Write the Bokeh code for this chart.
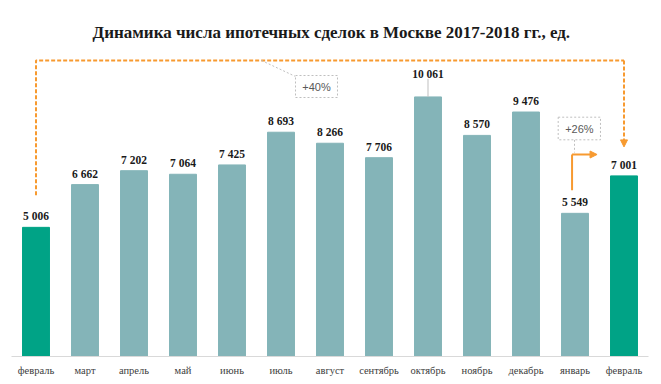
from bokeh.plotting import figure
from bokeh.models import Range1d, FixedTicker, Label, Arrow, NormalHead
from bokeh.embed import file_html
from bokeh.resources import INLINE

months = ["февраль", "март", "апрель", "май", "июнь", "июль", "август",
          "сентябрь", "октябрь", "ноябрь", "декабрь", "январь", "февраль"]
values = [5006, 6662, 7202, 7064, 7425, 8693, 8266, 7706, 10061, 8570, 9476, 5549, 7001]
labels = ["5 006", "6 662", "7 202", "7 064", "7 425", "8 693", "8 266",
          "7 706", "10 061", "8 570", "9 476", "5 549", "7 001"]
highlight = [0, 12]
growth_year = "+40%"
growth_month = "+26%"
title_text = "Динамика  числа ипотечных сделок в Москве 2017-2018 гг., ед."

TEAL = "#84B4B8"
GREEN = "#00A386"
ORANGE = "#F79A30"
GRAY = "#BFBFBF"

W, H = 661, 384
U = 38.76            # data units per pixel
FRAME_H = 356
xs = list(range(len(values)))

p = figure(width=W, height=H, output_backend="svg", toolbar_location=None,
           x_range=Range1d(-0.5, 12.5), y_range=Range1d(0, FRAME_H * U),
           min_border_left=11, min_border_right=13, min_border_top=0,
           min_border_bottom=H - FRAME_H)
p.outline_line_color = None
p.grid.visible = False
p.yaxis.visible = False
p.background_fill_color = "white"
p.border_fill_color = "white"

colors = [GREEN if i in highlight else TEAL for i in xs]
p.vbar(x=xs, top=values, width=0.55, bottom=0, fill_color=colors, line_color=colors)

ax = p.xaxis[0]
ax.ticker = FixedTicker(ticks=xs)
ax.major_label_overrides = {i: m for i, m in enumerate(months)}
ax.major_tick_line_color = None
ax.major_tick_out = 0
ax.major_tick_in = 0
ax.minor_tick_line_color = None
ax.minor_tick_out = 0
ax.axis_line_color = "#D9D9D9"
ax.axis_line_width = 1
ax.major_label_text_font = "Liberation Serif"
ax.major_label_text_font_size = "10.5px"
ax.major_label_text_color = "#404040"
ax.major_label_standoff = 8

# value labels
ly = [v + (23 if i == 8 else 11) * U for i, v in enumerate(values)]
p.text(x=xs, y=ly, text=labels, text_align="center", text_baseline="middle",
       text_font={"value": "Liberation Serif"}, text_font_style="bold",
       text_font_size="11.5px", text_color="#1A1A1A")
# leader for 10 061
p.line(x=[8, 8], y=[values[8] + 18 * U, values[8]], line_color=GRAY, line_width=1)

# title
p.add_layout(Label(x=6.07, y=324 * U, text=title_text, text_align="center",
                   text_baseline="middle", text_font="Liberation Serif",
                   text_font_style="bold", text_font_size="17px", text_color="#1A1A1A"))

# dashed orange year-over-year arrow
top_y = 296 * U
p.line(x=[0, 0, 12], y=[values[0] + 32 * U, top_y, top_y],
       line_color=ORANGE, line_width=2, line_dash="4 2")
p.add_layout(Arrow(end=NormalHead(size=7, fill_color=ORANGE, line_color=ORANGE),
                   x_start=12, y_start=top_y, x_end=12, y_end=values[12] + 29 * U,
                   line_color=ORANGE, line_width=2, line_dash="4 2"))

# callout +40%
p.line(x=[4.602, 5.296], y=[top_y, 280 * U], line_color=GRAY, line_width=1, line_dash="2 2")
p.quad(left=[5.296], right=[6.153], bottom=[259 * U], top=[281 * U],
       fill_color="white", line_color=GRAY, line_width=1, line_dash="2 2")
p.text(x=[5.725], y=[270 * U], text=[growth_year], text_align="center", text_baseline="middle",
       text_font={"value": "Liberation Sans"}, text_font_size="11px", text_color="#595959")

# solid orange month-over-month arrow
corner_y = 202 * U
p.line(x=[10.94, 10.94], y=[values[11] + 23 * U, corner_y], line_color=ORANGE, line_width=2)
p.add_layout(Arrow(end=NormalHead(size=7, fill_color=ORANGE, line_color=ORANGE),
                   x_start=10.94, y_start=corner_y, x_end=11.45, y_end=corner_y,
                   line_color=ORANGE, line_width=2))

# callout +26%
p.line(x=[10.99, 10.99], y=[216.7 * U, 204 * U], line_color=GRAY, line_width=1, line_dash="2 2")
p.quad(left=[10.657], right=[11.52], bottom=[216.7 * U], top=[239.3 * U],
       fill_color="white", line_color=GRAY, line_width=1, line_dash="2 2")
p.text(x=[11.09], y=[228 * U], text=[growth_month], text_align="center", text_baseline="middle",
       text_font={"value": "Liberation Sans"}, text_font_size="11px", text_color="#595959")

open("out.html", "w").write(file_html(p, INLINE))
